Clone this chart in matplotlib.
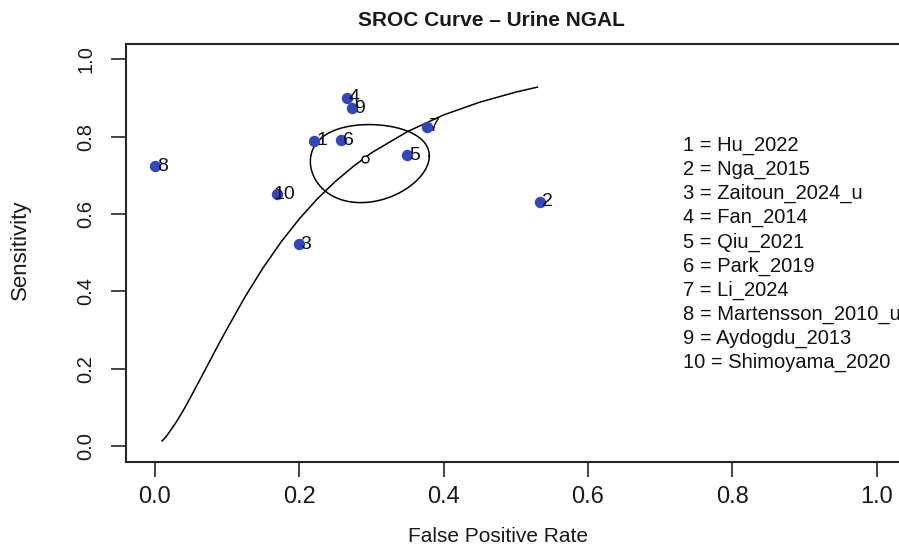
import numpy as np
import matplotlib
matplotlib.use("Agg")
import matplotlib.pyplot as plt

plt.rcParams['font.family'] = ['Liberation Sans', 'DejaVu Sans']

# ---- data ----
study_ids = ["1", "2", "3", "4", "5", "6", "7", "8", "9", "10"]
study_names = ["Hu_2022", "Nga_2015", "Zaitoun_2024_u", "Fan_2014", "Qiu_2021",
               "Park_2019", "Li_2024", "Martensson_2010_u", "Aydogdu_2013", "Shimoyama_2020"]
fpr = [0.221, 0.533, 0.199, 0.266, 0.349, 0.258, 0.377, 0.000, 0.273, 0.169]
sens = [0.789, 0.632, 0.522, 0.901, 0.752, 0.791, 0.826, 0.724, 0.873, 0.651]

summary_fpr = 0.291
summary_sens = 0.743

curve_fpr = [0.010, 0.015, 0.020, 0.030, 0.040, 0.050, 0.060, 0.075, 0.090, 0.100,
             0.125, 0.150, 0.175, 0.200, 0.225, 0.250, 0.275, 0.300, 0.350, 0.400,
             0.450, 0.500, 0.530]
curve_sens = [0.013, 0.023, 0.036, 0.063, 0.094, 0.128, 0.163, 0.216, 0.269, 0.303,
              0.386, 0.461, 0.528, 0.587, 0.639, 0.684, 0.723, 0.758, 0.813, 0.856,
              0.889, 0.915, 0.928]

# confidence region (logit space): semi-extents and correlation
region_sd_fpr = 0.402
region_sd_sens = 0.532
region_rho = 0.07

x_ticks = [0.0, 0.2, 0.4, 0.6, 0.8, 1.0]
y_ticks = [0.0, 0.2, 0.4, 0.6, 0.8, 1.0]

W, H = 899, 547
fig = plt.figure(figsize=(W / 100, H / 100), dpi=100)
ax = fig.add_axes([126 / W, 1 - 461.5 / H, (905.5 - 126) / W, (461.5 - 43.8) / H])

dark = '#262626'
pt_blue = '#3547b8'

# SROC curve
ax.plot(curve_fpr, curve_sens, color='black', lw=1.1, zorder=2)

# confidence ellipse (built in logit space, back-transformed)
def logit(p):
    return np.log(p / (1 - p))

def expit(z):
    return 1 / (1 + np.exp(-z))

t = np.linspace(0, 2 * np.pi, 300)
cx, cy = logit(summary_fpr), logit(summary_sens)
ex = cx + region_sd_fpr * np.cos(t)
ey = cy + region_sd_sens * (region_rho * np.cos(t) + np.sqrt(1 - region_rho ** 2) * np.sin(t))
ax.plot(expit(ex), expit(ey), color='black', lw=1.1, zorder=2)

# summary point
ax.plot([summary_fpr], [summary_sens], marker='o', ms=5.0, mfc='white',
        mec='black', mew=1.0, ls='none', zorder=4)

# study points
ax.plot(fpr, sens, marker='o', ls='none', ms=7.2, color=pt_blue, mec=pt_blue, zorder=3)
for sid, xv, yv in zip(study_ids, fpr, sens):
    ax.annotate(sid, (xv, yv), xytext=(7.5, 0), textcoords='offset pixels',
                ha='center', va='center', fontsize=14, color='#111111', zorder=5)

ax.set_xlim(-0.04, 1.04)
ax.set_ylim(-0.04, 1.04)
ax.set_xticks(x_ticks)
ax.set_xticklabels([f"{v:.1f}" for v in x_ticks])
ax.set_yticks(y_ticks)
ax.set_yticklabels([f"{v:.1f}" for v in y_ticks], rotation=90, va='center')

for s in ax.spines.values():
    s.set_color(dark)
    s.set_linewidth(1.5)
ax.tick_params(axis='both', direction='out', length=10.8, width=1.2, color=dark)
ax.tick_params(axis='x', labelsize=17, pad=7, labelcolor='#1a1a1a')
ax.tick_params(axis='y', labelsize=14.5, pad=11, labelcolor='#1a1a1a')

ax.set_xlabel("False Positive Rate", fontsize=15, color='#1a1a1a')
ax.xaxis.set_label_coords((498.3 - 126) / (905.5 - 126), -(536.7 - 461.5) / (461.5 - 43.8))
ax.xaxis.label.set_va('center')
ax.set_ylabel("Sensitivity", fontsize=16, color='#1a1a1a')
ax.yaxis.set_label_coords(-(126 - 20) / (905.5 - 126), (461.5 - 250) / (461.5 - 43.8))
ax.yaxis.label.set_va('center')

fig.text(491.7 / W, 1 - 20 / H, "SROC Curve \u2013 Urine NGAL", ha='center', va='center',
         fontsize=15, fontweight='bold', color='#1a1a1a')

# study legend (plain text lines)
for i, (sid, name) in enumerate(zip(study_ids, study_names)):
    fig.text(682.7 / W, 1 - (145.5 + 24.15 * i) / H, f"{sid} = {name}",
             ha='left', va='center', fontsize=14.5, color='#111111')

fig.savefig("out.png", dpi=100)
